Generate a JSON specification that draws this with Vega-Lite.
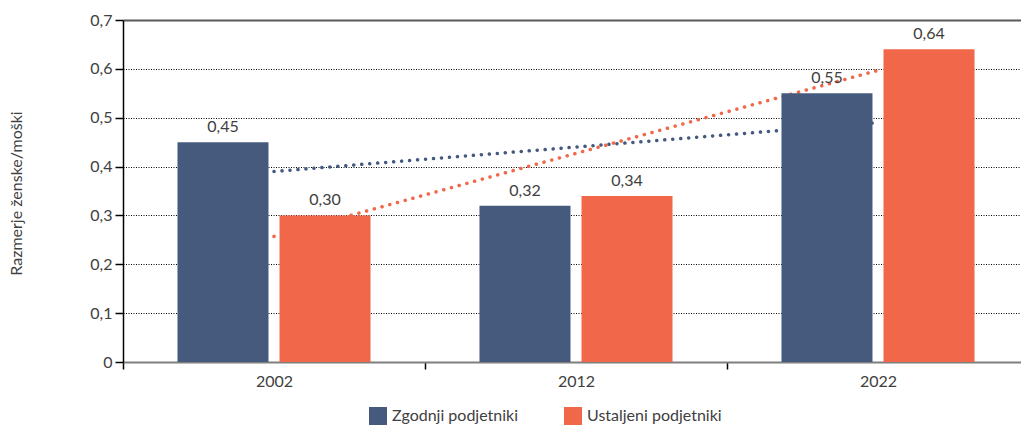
{
  "$schema": "https://vega.github.io/schema/vega-lite/v6.json",
  "width": 898,
  "height": 342,
  "autosize": {"type": "none"},
  "padding": {"left": 123, "top": 20, "right": 0, "bottom": 69},
  "config": {
    "view": {"stroke": null},
    "font": "Lato",
    "locale": {"number": {"decimal": ",", "thousands": ".", "grouping": [3], "currency": ["", " €"]}}
  },
  "datasets": {
    "bars": [
      {"year": "2002", "series": "Zgodnji podjetniki", "value": 0.45},
      {"year": "2002", "series": "Ustaljeni podjetniki", "value": 0.30},
      {"year": "2012", "series": "Zgodnji podjetniki", "value": 0.32},
      {"year": "2012", "series": "Ustaljeni podjetniki", "value": 0.34},
      {"year": "2022", "series": "Zgodnji podjetniki", "value": 0.55},
      {"year": "2022", "series": "Ustaljeni podjetniki", "value": 0.64}
    ],
    "trend": [
      {"year": "2002", "trend": "Zgodnji trend", "value": 0.39},
      {"year": "2022", "trend": "Zgodnji trend", "value": 0.49},
      {"year": "2002", "trend": "Ustaljeni trend", "value": 0.257},
      {"year": "2022", "trend": "Ustaljeni trend", "value": 0.597}
    ]
  },
  "layer": [
    {
      "data": {"name": "trend"},
      "mark": {"type": "line", "strokeWidth": 3.5, "strokeCap": "round", "strokeDash": [0.1, 7.9]},
      "encoding": {
        "x": {
          "field": "year", "type": "nominal", "sort": ["2002", "2012", "2022"],
          "scale": {"range": [0, 906], "paddingInner": 0, "paddingOuter": 0},
          "axis": {
            "title": null, "tickBand": "extent", "domainColor": "#7f7f7f", "domainWidth": 2,
            "tickColor": "#000", "tickSize": 7, "tickWidth": 1.5, "labelFontSize": 16,
            "labelColor": "#404040", "labelPadding": 4, "labelAngle": 0, "grid": false
          }
        },
        "y": {
          "field": "value", "type": "quantitative",
          "scale": {"domain": [0, 0.7], "nice": false},
          "axis": {
            "title": "Razmerje ženske/moški", "values": [0, 0.1, 0.2, 0.3, 0.4, 0.5, 0.6, 0.7],
            "format": ".1~f", "grid": true,
            "gridColor": {"condition": {"test": "datum.value >= 0.69", "value": "#595959"}, "value": "#000000"},
            "gridDash": {"condition": {"test": "datum.value >= 0.69", "value": []}, "value": [1, 1.5]},
            "gridWidth": {"condition": {"test": "datum.value >= 0.69", "value": 2}, "value": 1},
            "domainColor": "#000", "domainWidth": 1.5, "tickColor": "#000", "tickSize": 8, "tickWidth": 1.5,
            "labelFontSize": 16, "labelColor": "#404040", "labelPadding": 3,
            "titleFontSize": 16, "titleFontWeight": "normal", "titleColor": "#404040",
            "titleX": -99, "titleY": 173, "titleAngle": -90, "titleAlign": "center", "titleBaseline": "bottom"
          }
        },
        "stroke": {
          "field": "trend", "type": "nominal",
          "scale": {"domain": ["Zgodnji trend", "Ustaljeni trend"], "range": ["#44597f", "#f0674a"]},
          "legend": null
        }
      }
    },
    {
      "data": {"name": "bars"},
      "mark": {"type": "bar"},
      "encoding": {
        "x": {"field": "year", "type": "nominal", "sort": ["2002", "2012", "2022"]},
        "xOffset": {
          "field": "series", "type": "nominal", "sort": ["Zgodnji podjetniki", "Ustaljeni podjetniki"],
          "scale": {"paddingInner": 0.108, "paddingOuter": 0.534}
        },
        "y": {"field": "value", "type": "quantitative"},
        "color": {
          "field": "series", "type": "nominal", "sort": ["Zgodnji podjetniki", "Ustaljeni podjetniki"],
          "scale": {"domain": ["Zgodnji podjetniki", "Ustaljeni podjetniki"], "range": ["#465a7e", "#f1674a"]},
          "legend": {
            "title": null, "orient": "none", "legendX": 246, "legendY": 387, "direction": "horizontal",
            "symbolType": "square", "symbolSize": 324, "symbolStrokeWidth": 0, "symbolOpacity": 1,
            "labelFontSize": 16, "labelColor": "#404040", "columnPadding": 45, "labelOffset": 5, "padding": 0
          }
        }
      }
    },
    {
      "data": {"name": "bars"},
      "mark": {"type": "text", "baseline": "bottom", "dy": -7, "fontSize": 16, "color": "#404040"},
      "encoding": {
        "x": {"field": "year", "type": "nominal", "sort": ["2002", "2012", "2022"]},
        "xOffset": {"field": "series", "type": "nominal", "sort": ["Zgodnji podjetniki", "Ustaljeni podjetniki"]},
        "y": {"field": "value", "type": "quantitative"},
        "text": {"field": "value", "type": "quantitative", "format": ".2f"}
      }
    }
  ]
}
